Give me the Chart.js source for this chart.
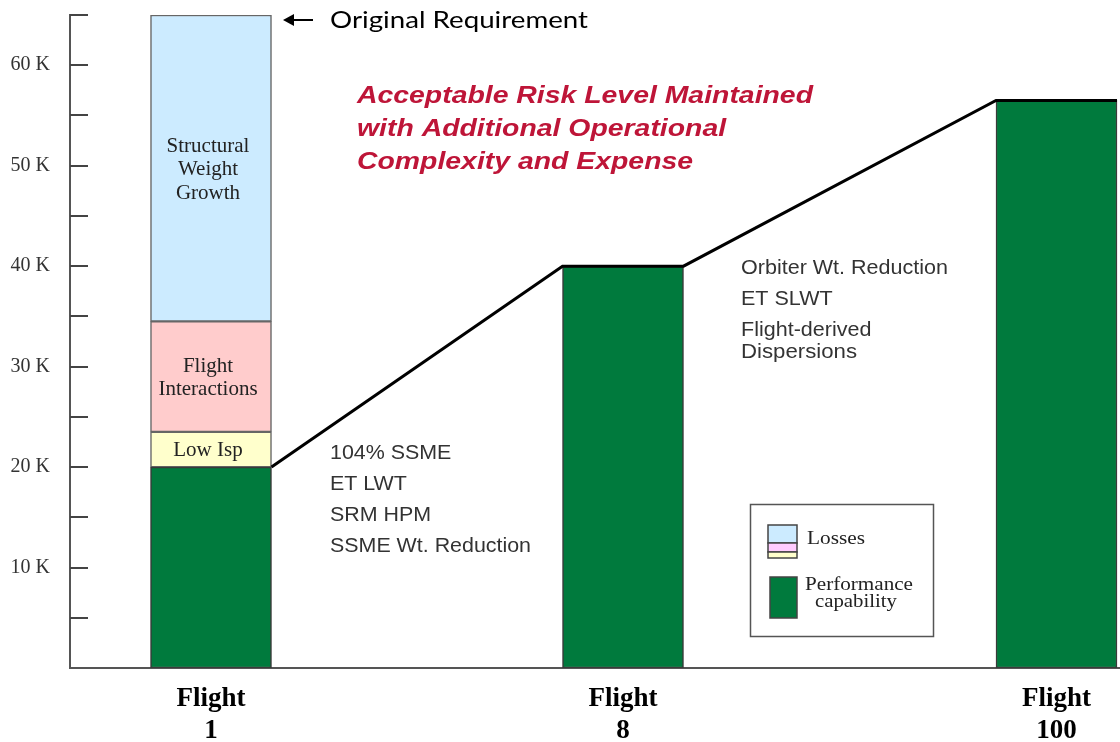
<!DOCTYPE html>
<html>
<head>
<meta charset="utf-8">
<script src="https://cdn.jsdelivr.net/npm/chart.js@4.4.1/dist/chart.umd.min.js"></script>
<style>
  html, body { margin: 0; padding: 0; background: #fff; }
  #wrap { width: 1120px; height: 742px; }
</style>
</head>
<body>
<div id="wrap"><canvas id="perf-chart"></canvas></div>
<script>
const flights = [['Flight', '1'], ['Flight', '8'], ['Flight', '100']];
const flightSlots = [1.41, 5.53, 9.865]; // position of each flight along the x axis
const performance = [20, 40, 56.5];      // K lb
const lowIsp = [3.5, null, null];
const flightInteractions = [11, null, null];
const structuralGrowth = [30.5, null, null];
const yTicks = [10, 20, 30, 40, 50, 60];
const upgradesEarly = ['104% SSME', 'ET LWT', 'SRM HPM', 'SSME Wt. Reduction'];
const upgradesLate = ['Orbiter Wt. Reduction', 'ET SLWT', 'Flight-derived', 'Dispersions'];
const headline = ['Acceptable Risk Level Maintained', 'with Additional Operational', 'Complexity and Expense'];

const GREEN = '#007A3D';
const BLUE = '#CCEBFF';
const PINK = '#FFCCCC';
const YELLOW = '#FFFFCC';
const SERIF = '"Liberation Serif", "Times New Roman", serif';
const SANS = '"Liberation Sans", Arial, sans-serif';

const BAR_PX = 121;
const HALF = BAR_PX / 2 / 100; // x scale is 100 px per unit

// trend line joins the top corners of the performance bars
const trend = [];
flightSlots.forEach((s, i) => {
  if (i > 0) trend.push({ x: s - HALF, y: performance[i] });
  trend.push({ x: s + HALF, y: performance[i] });
});

const toPoints = (arr) => flightSlots.map((s, i) => ({ x: s, y: arr[i] }));

const baseBar = {
  type: 'bar',
  barThickness: BAR_PX,
  grouped: false,
  stack: 'flight',
  borderColor: '#3a3a3a',
  borderWidth: 1.5,
  borderSkipped: false,
  order: 1,
};

const datasets = [
  { ...baseBar, label: 'Performance', data: toPoints(performance), backgroundColor: GREEN },
  { ...baseBar, label: 'Low Isp', data: toPoints(lowIsp), backgroundColor: YELLOW, borderColor: '#666' },
  { ...baseBar, label: 'Flight Interactions', data: toPoints(flightInteractions), backgroundColor: PINK, borderColor: '#666' },
  { ...baseBar, label: 'Structural Weight Growth', data: toPoints(structuralGrowth), backgroundColor: BLUE, borderColor: '#666' },
  {
    type: 'line',
    label: 'Trend',
    data: trend,
    stack: 'trend',
    borderColor: '#000',
    borderWidth: 3,
    pointRadius: 0,
    tension: 0,
    fill: false,
    order: 0,
  },
];

const segmentLabels = {
  1: ['Low Isp'],
  2: ['Flight', 'Interactions'],
  3: ['Structural', 'Weight', 'Growth'],
};

function fitLines(ctx, lines, x, y0, gap, font, color, width, align) {
  ctx.save();
  ctx.font = font;
  ctx.fillStyle = color;
  ctx.textAlign = align || 'left';
  ctx.textBaseline = 'alphabetic';
  const longest = Math.max(...lines.map((t) => ctx.measureText(t).width));
  const sx = width ? width / longest : 1;
  lines.forEach((t, i) => {
    ctx.save();
    ctx.translate(x, y0 + i * gap);
    ctx.scale(sx, 1);
    ctx.fillText(t, 0, 0);
    ctx.restore();
  });
  ctx.restore();
}

const decorations = {
  id: 'decorations',
  afterDatasetsDraw(chart) {
    const { ctx } = chart;
    const y = chart.scales.y;
    const left = chart.chartArea.left;

    // inward tick marks every 5K
    ctx.save();
    ctx.strokeStyle = '#444';
    ctx.lineWidth = 2;
    for (let v = 5; v <= 65; v += 5) {
      const py = Math.round(y.getPixelForValue(v));
      ctx.beginPath();
      ctx.moveTo(left, py);
      ctx.lineTo(left + 18, py);
      ctx.stroke();
    }
    ctx.restore();

    // labels inside the flight 1 loss segments
    Object.entries(segmentLabels).forEach(([idx, lines]) => {
      const bar = chart.getDatasetMeta(+idx).data[0];
      const cy = (bar.y + bar.base) / 2;
      const gap = lines.length > 1 ? 23.5 : 0;
      const first = cy - ((lines.length - 1) * gap) / 2 + 7;
      fitLines(ctx, lines, bar.x - 3, first, gap, '21px ' + SERIF, '#222', null, 'center');
    });

    // original requirement arrow
    ctx.save();
    ctx.strokeStyle = '#000';
    ctx.fillStyle = '#000';
    ctx.lineWidth = 2;
    ctx.beginPath();
    ctx.moveTo(313, 20);
    ctx.lineTo(292, 20);
    ctx.stroke();
    ctx.beginPath();
    ctx.moveTo(283, 20);
    ctx.lineTo(294, 14);
    ctx.lineTo(294, 26);
    ctx.closePath();
    ctx.fill();
    ctx.restore();
    fitLines(ctx, ['Original Requirement'], 330, 28, 0, '24px Lato, "Open Sans", sans-serif', '#000', 258);

    fitLines(ctx, headline, 357, 103, 33, 'italic bold 23px ' + SANS, '#BE1538', 456);
    fitLines(ctx, upgradesEarly, 330, 459, 31, '20px ' + SANS, '#333', 201);
    fitLines(ctx, upgradesLate.slice(0, 3), 741, 274, 31, '20px ' + SANS, '#333', 207);
    fitLines(ctx, upgradesLate.slice(3), 741, 358, 0, '20px ' + SANS, '#333', 116);

    // legend box
    ctx.save();
    ctx.strokeStyle = '#555';
    ctx.lineWidth = 1.5;
    ctx.fillStyle = '#fff';
    ctx.fillRect(750.5, 504.5, 183, 132);
    ctx.strokeRect(750.5, 504.5, 183, 132);
    const swatch = (x, y0, w, h, fill) => {
      ctx.fillStyle = fill;
      ctx.fillRect(x, y0, w, h);
      ctx.strokeStyle = '#444';
      ctx.lineWidth = 1.5;
      ctx.strokeRect(x, y0, w, h);
    };
    swatch(768, 525, 29, 18, BLUE);
    swatch(768, 543, 29, 9, '#FFCCFF');
    swatch(768, 552, 29, 6, YELLOW);
    swatch(770, 577, 27, 41, GREEN);
    ctx.restore();
    fitLines(ctx, ['Losses'], 807, 544, 0, '19px ' + SERIF, '#222', 58);
    fitLines(ctx, ['Performance'], 805, 590, 0, '19px ' + SERIF, '#222', 108);
    fitLines(ctx, ['capability'], 815, 607, 0, '19px ' + SERIF, '#222', 82);
  },
};

new Chart(document.getElementById('perf-chart'), {
  data: { datasets },
  options: {
    responsive: true,
    maintainAspectRatio: false,
    animation: false,
    layout: { padding: { top: 15, left: 0, right: 0, bottom: 0 } },
    plugins: {
      legend: { display: false },
      tooltip: { enabled: false },
    },
    scales: {
      x: {
        type: 'linear',
        offset: false,
        min: 0,
        max: 10.5,
        afterFit: (scale) => {
          scale.height = 74;
          scale.paddingLeft = 0;
          scale.paddingRight = 0;
        },
        afterBuildTicks: (scale) => { scale.ticks = flightSlots.map((v) => ({ value: v })); },
        ticks: {
          autoSkip: false,
          maxRotation: 0,
          padding: 8,
          color: '#000',
          font: { family: SERIF, size: 27, weight: 'bold', lineHeight: 1.15 },
          callback: (value, index) => flights[index],
        },
        grid: { display: false },
        border: { color: '#555', width: 2 },
      },
      y: {
        stacked: true,
        min: 0,
        max: 65,
        afterFit: (scale) => {
          scale.width = 70;
          scale.paddingTop = 0;
          scale.paddingBottom = 0;
        },
        afterBuildTicks: (scale) => { scale.ticks = yTicks.map((v) => ({ value: v })); },
        ticks: {
          padding: 12,
          color: '#333',
          font: { family: SERIF, size: 20 },
          callback: (value) => value + ' K',
        },
        grid: { display: false },
        border: { color: '#555', width: 2 },
      },
    },
  },
  plugins: [decorations],
});
</script>
</body>
</html>
